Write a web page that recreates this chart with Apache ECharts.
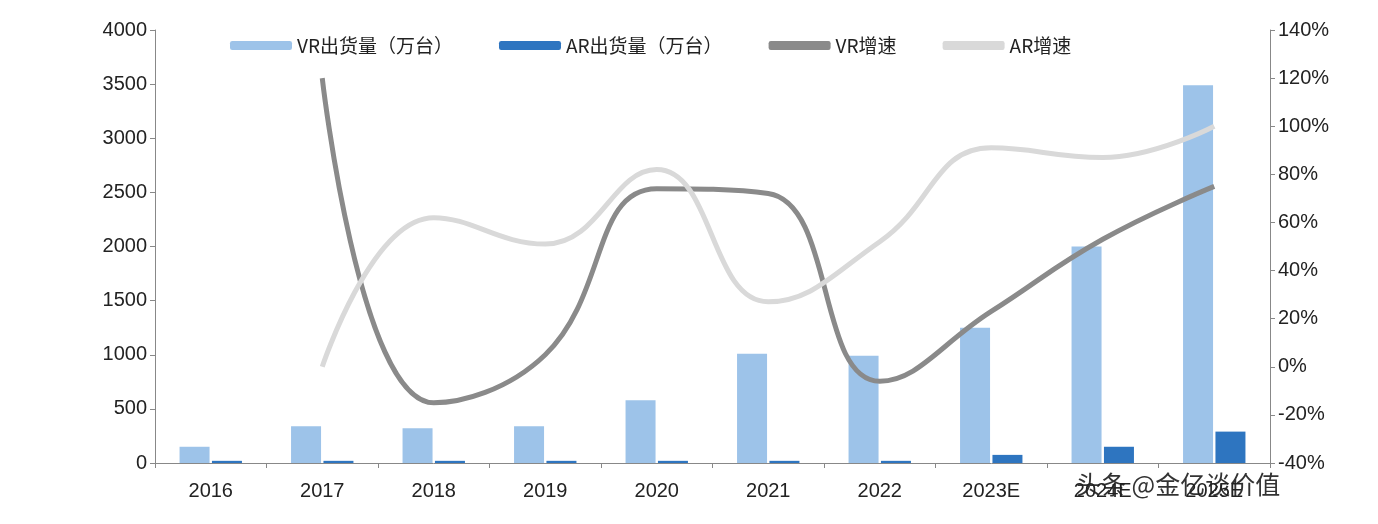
<!DOCTYPE html>
<html><head><meta charset="utf-8">
<script src="https://cdn.jsdelivr.net/npm/echarts@6/dist/echarts.min.js"></script>
<style>html,body{margin:0;background:#fff}#c{width:1378px;height:524px}</style>
</head><body><div id="c"></div>
<script>
var years = ['2016', '2017', '2018', '2019', '2020', '2021', '2022', '2023E', '2024E', '2025E'];
var vrShip = [150, 340, 320, 340, 580, 1010, 990, 1250, 2000, 3490];
var arShip = [20, 20, 20, 20, 20, 20, 20, 75, 150, 290];
var vrGrowth = [null, 120, -15, 5, 74, 72, -6, 23, 53, 75];
var arGrowth = [null, 0, 62, 51, 82, 27, 52, 91, 87, 100];

var chart = echarts.init(document.getElementById('c'));
var axisFont = { fontSize: 20, color: '#222', fontFamily: 'Liberation Sans' };
chart.setOption({
    animation: false,
    legend: {
        top: 31, left: 225, itemGap: 46, itemWidth: 62, itemHeight: 9, icon: 'roundRect',
        textStyle: { fontSize: 19, color: '#222', fontFamily: 'Noto Sans CJK SC' },
        data: ['VR出货量（万台）', 'AR出货量（万台）', 'VR增速', 'AR增速']
    },
    grid: { left: 155, right: 108, top: 30, bottom: 61 },
    xAxis: {
        type: 'category', data: years,
        axisLine: { lineStyle: { color: '#888' } },
        axisTick: { show: true, lineStyle: { color: '#888' } },
        axisLabel: Object.assign({ margin: 18 }, axisFont)
    },
    yAxis: [{
        type: 'value', min: 0, max: 4000, interval: 500,
        splitLine: { show: false },
        axisLine: { show: true, lineStyle: { color: '#888' } },
        axisTick: { show: true, lineStyle: { color: '#888' } },
        axisLabel: Object.assign({ formatter: function (v) { return String(v); } }, axisFont)
    }, {
        type: 'value', min: -40, max: 140, interval: 20,
        splitLine: { show: false },
        axisLine: { show: true, lineStyle: { color: '#888' } },
        axisTick: { show: true, lineStyle: { color: '#888' } },
        axisLabel: Object.assign({ formatter: '{value}%' }, axisFont)
    }],
    series: [
        { name: 'VR出货量（万台）', type: 'bar', data: vrShip, barWidth: 30, barGap: '8%',
          itemStyle: { color: '#9dc3e9' } },
        { name: 'AR出货量（万台）', type: 'bar', data: arShip, barWidth: 30,
          itemStyle: { color: '#2e75c0' } },
        { name: 'VR增速', type: 'line', yAxisIndex: 1, data: vrGrowth, smooth: 0.45,
          symbol: 'none', lineStyle: { width: 5, color: '#8a8a8a' }, itemStyle: { color: '#8a8a8a' } },
        { name: 'AR增速', type: 'line', yAxisIndex: 1, data: arGrowth, smooth: 0.45,
          symbol: 'none', lineStyle: { width: 5, color: '#d9d9d9' }, itemStyle: { color: '#d9d9d9' } }
    ],
    graphic: [{
        type: 'text', left: 1072, top: 472,
        style: { text: '头条 @金亿谈价值', fontSize: 25, fill: '#333', fontFamily: 'Noto Sans CJK SC',
                 backgroundColor: 'rgba(255,255,255,0.75)', padding: [0, 4] }
    }]
});
</script></body></html>
